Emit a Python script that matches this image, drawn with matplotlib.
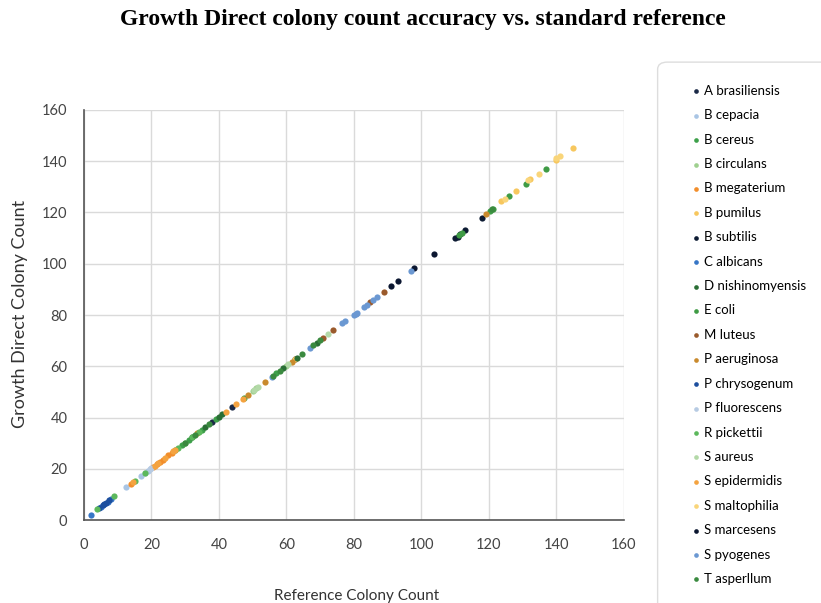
import matplotlib.pyplot as plt
from matplotlib.patches import FancyBboxPatch

plt.rcParams['font.family'] = ['Lato', 'DejaVu Sans']

# species, colour, reference counts (x) and Growth Direct counts (y)
species = ['A brasiliensis', 'B cepacia', 'B cereus', 'B circulans', 'B megaterium',
           'B pumilus', 'B subtilis', 'C albicans', 'D nishinomyensis', 'E coli',
           'M luteus', 'P aeruginosa', 'P chrysogenum', 'P fluorescens', 'R pickettii',
           'S aureus', 'S epidermidis', 'S maltophilia', 'S marcesens', 'S pyogenes',
           'T asperllum']
colors = ['#1b2a47', '#a9c5e4', '#3da04a', '#9fd08f', '#f28e2b',
          '#f7c75e', '#0d1b33', '#3776c6', '#2a6e35', '#3f9b45',
          '#9a5a2c', '#c98a2d', '#1d4f9e', '#b7cbe3', '#5cb85c',
          '#b3d9a8', '#f4a340', '#f9d57a', '#0b1630', '#6b98d2',
          '#3a8a3f']

ref_x = [
    [37.8, 43.8, 62.5],
    [12.5, 17, 19],
    [27, 29, 31, 35, 39, 47.5, 57],
    [50, 51, 60],
    [14, 20.5, 21.5, 22.5, 23.5, 25, 26],
    [62.5, 123.7, 128, 132.2, 140, 145],
    [110, 110.8, 111.5, 113, 117.8],
    [2, 5, 7, 8],
    [32, 36, 40, 41, 59, 63, 69],
    [111, 112, 120.3, 121.2, 126, 131, 137],
    [70.9, 73.8, 84.7, 88.9],
    [33.5, 48.6, 53.6, 61.5, 119],
    [4.5, 5.5, 6, 6.5, 7.5],
    [18, 19.5, 20],
    [4, 9, 15, 18, 28, 30, 32, 34],
    [50.5, 51.6, 60.5, 72.3],
    [14.5, 21, 22, 24, 26.5, 27, 42, 45, 47],
    [124.7, 131.6, 134.8, 139.8, 141],
    [90.9, 92.9, 97.8, 103.7],
    [55.6, 67, 76.5, 77.4, 80, 80.5, 81, 83, 83.8, 85.6, 86.8, 96.8],
    [30, 33, 37, 56, 58, 64.5, 68, 70, 121],
]
gd_y = [
    [38.2, 44.1, 62.7],
    [12.8, 17.2, 19.3],
    [27.3, 29.2, 31.4, 35.1, 39.3, 47.8, 57.2],
    [50.3, 51.4, 60.2],
    [14.2, 20.8, 21.7, 22.8, 23.6, 25.2, 26.3],
    [63.0, 124.3, 128.4, 133.0, 140.6, 145.1],
    [110.2, 110.6, 111.7, 113.2, 118.0],
    [2.0, 5.1, 7.2, 8.1],
    [32.3, 36.2, 40.3, 41.2, 59.3, 63.2, 69.2],
    [111.2, 112.1, 120.4, 121.3, 126.3, 131.2, 137.1],
    [71.1, 74.0, 85.0, 89.1],
    [33.8, 48.8, 53.8, 61.8, 119.3],
    [4.7, 5.7, 6.2, 6.8, 7.7],
    [18.2, 19.8, 20.3],
    [4.2, 9.2, 15.2, 18.2, 28.3, 30.2, 32.3, 34.2],
    [50.8, 51.9, 60.8, 72.5],
    [14.8, 21.2, 22.3, 24.2, 26.8, 27.3, 42.3, 45.2, 47.3],
    [125.2, 132.5, 135.1, 141.3, 142.2],
    [91.2, 93.1, 98.2, 104.0],
    [55.8, 67.2, 76.8, 77.6, 80.1, 80.3, 80.8, 83.2, 84.0, 85.9, 87.0, 97.2],
    [30.2, 33.2, 37.3, 56.3, 58.2, 64.8, 68.2, 70.3, 121.2],
]
ticks = [0, 20, 40, 60, 80, 100, 120, 140, 160]

fig = plt.figure(figsize=(8.21, 6.03), dpi=100)
ax = fig.add_axes([0.1023, 0.1376, 0.6577, 0.680])

for name, c, xs, ys in zip(species, colors, ref_x, gd_y):
    ax.scatter(xs, ys, s=20, color=c, linewidths=0, label=name, zorder=3)

ax.set_xlim(0, 160)
ax.set_ylim(0, 160)
ax.set_xticks(ticks)
ax.set_yticks(ticks)
ax.grid(True, color='#dadada', linewidth=1)
ax.set_axisbelow(True)
for side in ['top', 'right']:
    ax.spines[side].set_visible(False)
for side in ['left', 'bottom']:
    ax.spines[side].set_color('#555555')
    ax.spines[side].set_linewidth(1.2)
ax.tick_params(length=0, labelsize=10.5, labelcolor='#444444')
ax.tick_params(axis='x', pad=13)
ax.tick_params(axis='y', pad=12)

fig.text(0.4348, 0.0, 'Reference Colony Count', ha='center', va='bottom',
         fontsize=11, color='#333333')
fig.text(0.024, 0.480, 'Growth Direct Colony Count', ha='center', va='center',
         rotation=90, fontsize=13, color='#333333')

fig.suptitle('Growth Direct colony count accuracy vs. standard reference',
             x=0.515, y=0.985, fontsize=17, fontweight='bold',
             family='Liberation Serif')

# legend frame runs off the right and bottom edges
frame = FancyBboxPatch((0.801, -0.05), 0.3, 0.947, transform=fig.transFigure,
                       boxstyle='round,pad=0,rounding_size=0.012',
                       facecolor='white', edgecolor='#dddddd', linewidth=1,
                       zorder=-1)
fig.patches.append(frame)

ax.legend(loc='upper left', bbox_to_anchor=(0.833, 0.868),
          bbox_transform=fig.transFigure, frameon=False, fontsize=9.5,
          labelspacing=0.94, handletextpad=0.1, markerscale=0.75,
          handlelength=1.0, borderaxespad=0)

fig.savefig('out.png', dpi=100)
